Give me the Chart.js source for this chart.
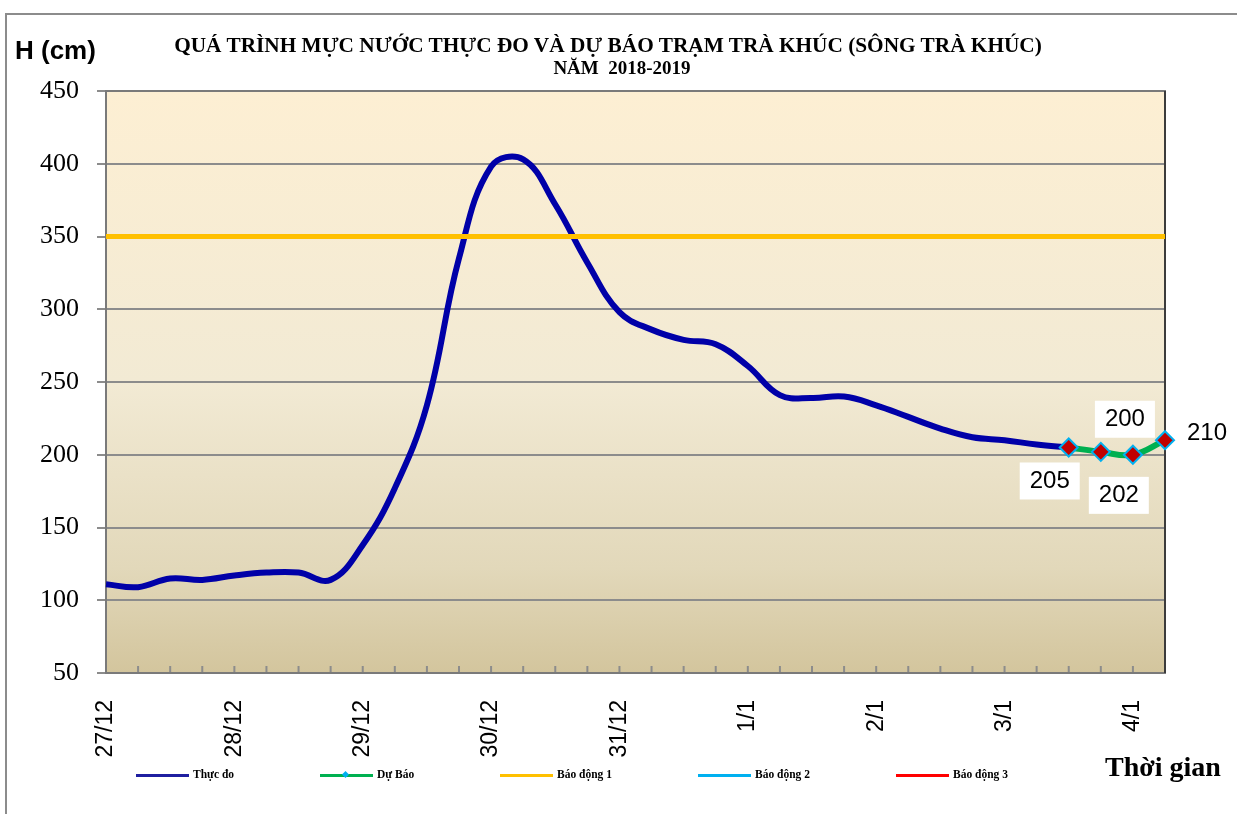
<!DOCTYPE html>
<html>
<head>
<meta charset="utf-8">
<script src="https://cdn.jsdelivr.net/npm/chart.js"></script>
<style>
  html, body { margin: 0; padding: 0; background: #fff; }
  #wrap { position: relative; width: 1237px; height: 814px; overflow: hidden; }
  #frame { position: absolute; left: 5px; top: 13px; width: 1300px; height: 900px;
           border-top: 2px solid #8c8c8c; border-left: 2px solid #8c8c8c; }
  canvas { position: absolute; left: 0; top: 0; }
  .txt { position: absolute; white-space: nowrap; color: #000; }
  #unit { left: 15px; top: 35px; font: bold 26px "Liberation Sans", Arial, sans-serif; }
  .title { font: bold 21.3px/22px "Liberation Serif", "Times New Roman", serif; text-align: center; width: 1000px; }
  #title1 { left: 108px; top: 34px; }
  #title2 { left: 122px; top: 57px; font-size: 19px; }
  #xname { left: 1105px; top: 751px; font: bold 28px "Liberation Serif", "Times New Roman", serif; }
  .leg { position: absolute; top: 768px; height: 14px; }
  .leg .sw { position: absolute; left: 0; top: 6px; width: 53px; height: 3px; }
  .leg .mk { position: absolute; left: 23px; top: 4px; width: 5px; height: 5px; background: #00B0F0;
             transform: rotate(45deg); }
  .leg span { position: absolute; left: 57px; top: 0; font: bold 11.5px "Liberation Serif", serif; white-space: nowrap; }
</style>
</head>
<body>
<div id="wrap">
  <div id="frame"></div>
  <canvas id="chart" width="1237" height="814"></canvas>
  <div class="txt" id="unit">H (cm)</div>
  <div class="txt title" id="title1">QUÁ TRÌNH MỰC NƯỚC THỰC ĐO VÀ DỰ BÁO TRẠM TRÀ KHÚC (SÔNG TRÀ KHÚC)</div>
  <div class="txt title" id="title2">NĂM&nbsp; 2018-2019</div>
  <div class="txt" id="xname">Thời gian</div>
  <div id="legend"></div>
</div>
<script>
// 6-hourly steps, 27/12/2018 -> 4/1/2019
const timeLabels = [
  '27/12', '', '', '', '28/12', '', '', '', '29/12', '', '', '',
  '30/12', '', '', '', '31/12', '', '', '', '1/1', '', '', '',
  '2/1', '', '', '', '3/1', '', '', '', '4/1', ''
];

// H (cm) measured
const observedValues = [
  111, 109, 115, 114, 117, 119, 119, 114, 138, 177, 234, 335, 398, 403, 372, 332,
  298, 286, 279, 276, 261, 241, 239, 240, 234, 226, 218, 212, 210, 207, 205
];

// forecast starts at the last measured step
const forecastStart = 30;
const forecastValues = [205, 202, 200, 210];

// alarm levels (cm)
const alarmNames = ['Báo động 1', 'Báo động 2', 'Báo động 3'];
const alarmLevels = [350, 500, 650];

const yTicks = [50, 100, 150, 200, 250, 300, 350, 400, 450];

const colors = {
  observed: '#0000A8',
  forecast: '#00B050',
  alarms: ['#FFC000', '#00B0F0', '#FF0000']
};

// where each forecast label box sits relative to its point
const labelOffsets = [[-19, 33], [18, 43], [-8, -36], [42, -8]];

const forecastData = timeLabels.map((_, i) => {
  const k = i - forecastStart;
  return k >= 0 && k < forecastValues.length ? forecastValues[k] : null;
});

const plotBackground = {
  id: 'plotBackground',
  beforeDraw(chart) {
    const { ctx, chartArea: a } = chart;
    const g = ctx.createLinearGradient(0, a.top, 0, a.bottom);
    g.addColorStop(0, '#FDEFD3');
    g.addColorStop(0.5, '#F2EAD4');
    g.addColorStop(0.82, '#E2D8BA');
    g.addColorStop(1, '#D3C59D');
    ctx.save();
    ctx.fillStyle = g;
    ctx.fillRect(a.left, a.top, a.right - a.left, a.bottom - a.top);
    ctx.restore();
  },
  beforeDatasetsDraw(chart) {
    // small inside tick marks on the time axis + plot frame
    const { ctx, chartArea: a, scales: { x } } = chart;
    ctx.save();
    ctx.strokeStyle = '#8c8c8c';
    ctx.lineWidth = 2;
    for (let i = 1; i < timeLabels.length; i++) {
      const px = x.getPixelForValue(i);
      ctx.beginPath();
      ctx.moveTo(px, a.bottom);
      ctx.lineTo(px, a.bottom - 7);
      ctx.stroke();
    }
    ctx.strokeStyle = '#7a7a7a';
    ctx.strokeRect(a.left, a.top, a.right - a.left, a.bottom - a.top);
    ctx.strokeStyle = '#3c3c3c';
    ctx.beginPath();
    ctx.moveTo(a.right, a.top);
    ctx.lineTo(a.right, a.bottom);
    ctx.stroke();
    ctx.restore();
  }
};

const forecastLabels = {
  id: 'forecastLabels',
  afterDatasetsDraw(chart) {
    const { ctx } = chart;
    const meta = chart.getDatasetMeta(1);
    ctx.save();
    ctx.font = '24px "Liberation Sans", Arial, sans-serif';
    ctx.textAlign = 'center';
    ctx.textBaseline = 'middle';
    forecastValues.forEach((v, k) => {
      const pt = meta.data[forecastStart + k];
      const cx = pt.x + labelOffsets[k][0];
      const cy = pt.y + labelOffsets[k][1];
      ctx.fillStyle = '#fff';
      ctx.fillRect(cx - 30, cy - 18, 60, 37);
      ctx.fillStyle = '#000';
      ctx.fillText(String(v), cx, cy + 1);
    });
    ctx.restore();
  }
};

const datasets = [
  {
    label: 'Thực đo',
    data: observedValues,
    borderColor: colors.observed,
    borderWidth: 6,
    pointRadius: 0,
    tension: 0.4,
    order: 3
  },
  {
    label: 'Dự Báo',
    data: forecastData,
    borderColor: colors.forecast,
    borderWidth: 6,
    tension: 0.4,
    pointStyle: 'rectRot',
    pointRadius: 9,
    pointBackgroundColor: '#C00000',
    pointBorderColor: '#00B0F0',
    pointBorderWidth: 2,
    order: 0
  }
];
alarmLevels.forEach((lv, i) => {
  datasets.push({
    label: alarmNames[i],
    data: timeLabels.map(() => lv),
    borderColor: colors.alarms[i],
    borderWidth: 5,
    pointRadius: 0,
    order: 1
  });
});

Chart.defaults.font.family = '"Liberation Sans", Arial, sans-serif';

new Chart(document.getElementById('chart').getContext('2d'), {
  type: 'line',
  data: { labels: timeLabels, datasets },
  options: {
    responsive: false,
    animation: false,
    devicePixelRatio: 1,
    layout: { padding: { top: 91, right: 72, left: 0, bottom: 0 } },
    plugins: {
      legend: { display: false },
      tooltip: { enabled: false }
    },
    scales: {
      x: {
        type: 'category',
        grid: { display: false, drawTicks: false },
        border: { color: '#8c8c8c', width: 2 },
        ticks: {
          autoSkip: false,
          maxRotation: 90,
          minRotation: 90,
          padding: 27,
          color: '#000',
          font: { size: 23, family: '"Liberation Sans", Arial, sans-serif' }
        },
        afterFit: s => { s.height = 141; }
      },
      y: {
        min: 50,
        max: 450,
        afterBuildTicks: s => { s.ticks = yTicks.map(v => ({ value: v })); },
        grid: { color: '#8c8c8c', lineWidth: 2, tickLength: 9 },
        border: { color: '#8c8c8c', width: 2 },
        ticks: {
          padding: 18,
          color: '#000',
          font: { size: 26, family: '"Liberation Serif", "Times New Roman", serif' }
        },
        afterFit: s => { s.width = 106; }
      }
    }
  },
  plugins: [plotBackground, forecastLabels]
});

// legend row
const legendItems = [
  { name: 'Thực đo', color: '#1F1FA0', left: 136 },
  { name: 'Dự Báo', color: colors.forecast, left: 320, marker: true },
  { name: alarmNames[0], color: colors.alarms[0], left: 500 },
  { name: alarmNames[1], color: colors.alarms[1], left: 698 },
  { name: alarmNames[2], color: colors.alarms[2], left: 896 }
];
const legendEl = document.getElementById('legend');
legendItems.forEach(it => {
  const d = document.createElement('div');
  d.className = 'leg';
  d.style.left = it.left + 'px';
  d.innerHTML = '<div class="sw" style="background:' + it.color + '"></div>' +
    (it.marker ? '<div class="mk"></div>' : '') +
    '<span>' + it.name + '</span>';
  legendEl.appendChild(d);
});
</script>
</body>
</html>
